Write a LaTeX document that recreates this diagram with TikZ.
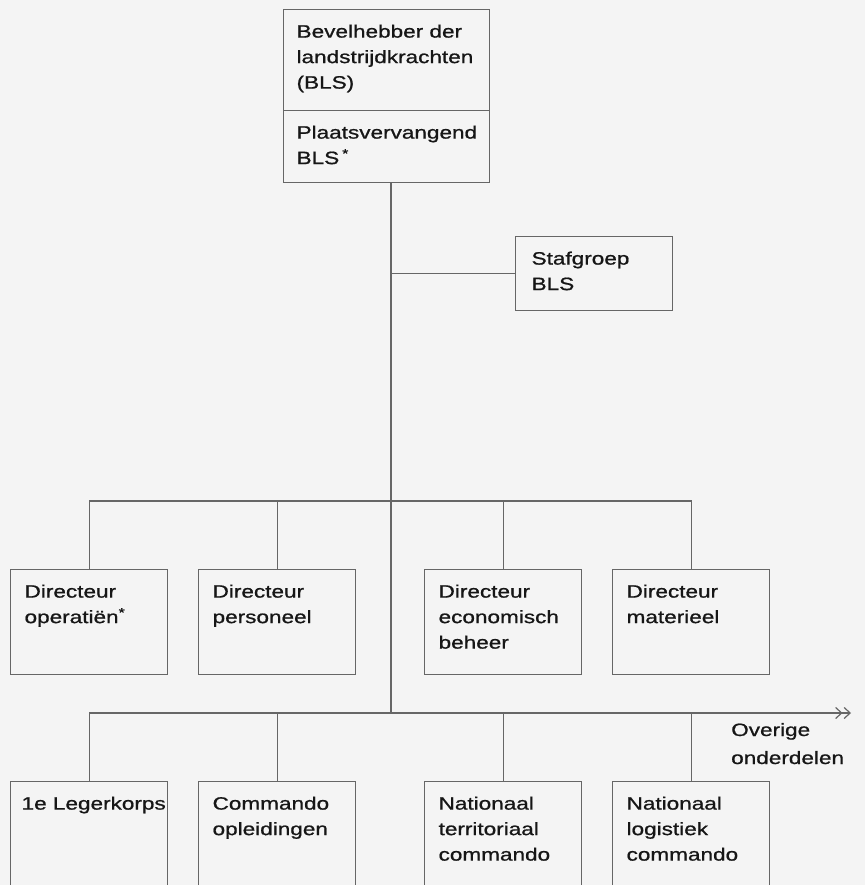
\documentclass[tikz,border=0pt]{standalone}
\usepackage{fontspec}
\setmainfont{Liberation Sans}[FakeStretch=1.26,FakeBold=0.9]
\usetikzlibrary{arrows.meta}

\definecolor{paper}{HTML}{F4F4F4}
\definecolor{ink}{HTML}{161616}
\definecolor{rulegray}{HTML}{666666}

% Box contents: width, height, left inset, lines (first baseline 28pt below the top)
\newcommand{\orgtext}[4]{%
  \parbox[b][#2][t]{#1}{\raggedright\leftskip=#3\relax\rule{0pt}{28pt}#4}}

\tikzset{
  orgbox/.style={draw=rulegray, line width=1.2pt, inner sep=0pt, anchor=north west,
    text=ink, font=\fontsize{17.9}{25.5}\selectfont},
  conn/.style={draw=rulegray, line width=1.2pt},
  lbl/.style={inner sep=0pt, align=left, text=ink,
    font=\fontsize{17.9}{28}\selectfont},
  chev/.style={-{Straight Barb[length=6pt,width=11pt,sep=1pt]Straight Barb[length=6pt,width=11pt]}}
}

\begin{document}
\begin{tikzpicture}[x=1pt,y=-1pt]
  \clip (0,0) rectangle (865,885);
  \fill[paper] (0,0) rectangle (865,885);

  % commander and deputy
  \node[orgbox] (bls) at (283,9)
    {\orgtext{206pt}{101pt}{13pt}{Bevelhebber der\\landstrijdkrachten\\(BLS)}};
  \node[orgbox] (pbls) at (283,110)
    {\orgtext{206pt}{72pt}{13pt}{Plaatsvervangend\\BLS\kern3pt\textsuperscript{*}}};

  % staff group
  \node[orgbox] (staf) at (515,236)
    {\orgtext{157pt}{74pt}{16pt}{Stafgroep\\BLS}};

  % directorates
  \node[orgbox] (d1) at (10,569)  {\orgtext{157pt}{105pt}{14pt}{Directeur\\operatiën\textsuperscript{*}}};
  \node[orgbox] (d2) at (198,569) {\orgtext{157pt}{105pt}{14pt}{Directeur\\personeel}};
  \node[orgbox] (d3) at (424,569) {\orgtext{157pt}{105pt}{14pt}{Directeur\\economisch\\beheer}};
  \node[orgbox] (d4) at (612,569) {\orgtext{157pt}{105pt}{14pt}{Directeur\\materieel}};

  % commands
  \node[orgbox] (c1) at (10,781)  {\orgtext{157pt}{120pt}{11pt}{1e Legerkorps}};
  \node[orgbox] (c2) at (198,781) {\orgtext{157pt}{120pt}{14pt}{Commando\\opleidingen}};
  \node[orgbox] (c3) at (424,781) {\orgtext{157pt}{120pt}{14pt}{Nationaal\\territoriaal\\commando}};
  \node[orgbox] (c4) at (612,781) {\orgtext{157pt}{120pt}{14pt}{Nationaal\\logistiek\\commando}};

  % label under the continuation arrow (anchored on its last line)
  \node[lbl, anchor=base west] (overige) at (731,764) {Overige\\onderdelen};

  % junctions
  \coordinate (j1) at (391,501);
  \coordinate (j2) at (391,713);
  \coordinate (ov) at (851,713);

  % trunk and staff branch
  \draw[conn] (j2 |- pbls.south) -- (j2);
  \draw[conn] (j2 |- staf.west) -- (staf.west);

  % directorate bus
  \draw[conn] (d1.north) |- (j1) -| (d4.north);
  \draw[conn] (d2.north |- j1) -- (d2.north);
  \draw[conn] (d3.north |- j1) -- (d3.north);

  % command bus with continuation to other units
  \draw[conn, chev] (c1.north) |- (j2) -- (ov);
  \draw[conn] (c2.north |- j2) -- (c2.north);
  \draw[conn] (c3.north |- j2) -- (c3.north);
  \draw[conn] (c4.north |- j2) -- (c4.north);
\end{tikzpicture}
\end{document}
